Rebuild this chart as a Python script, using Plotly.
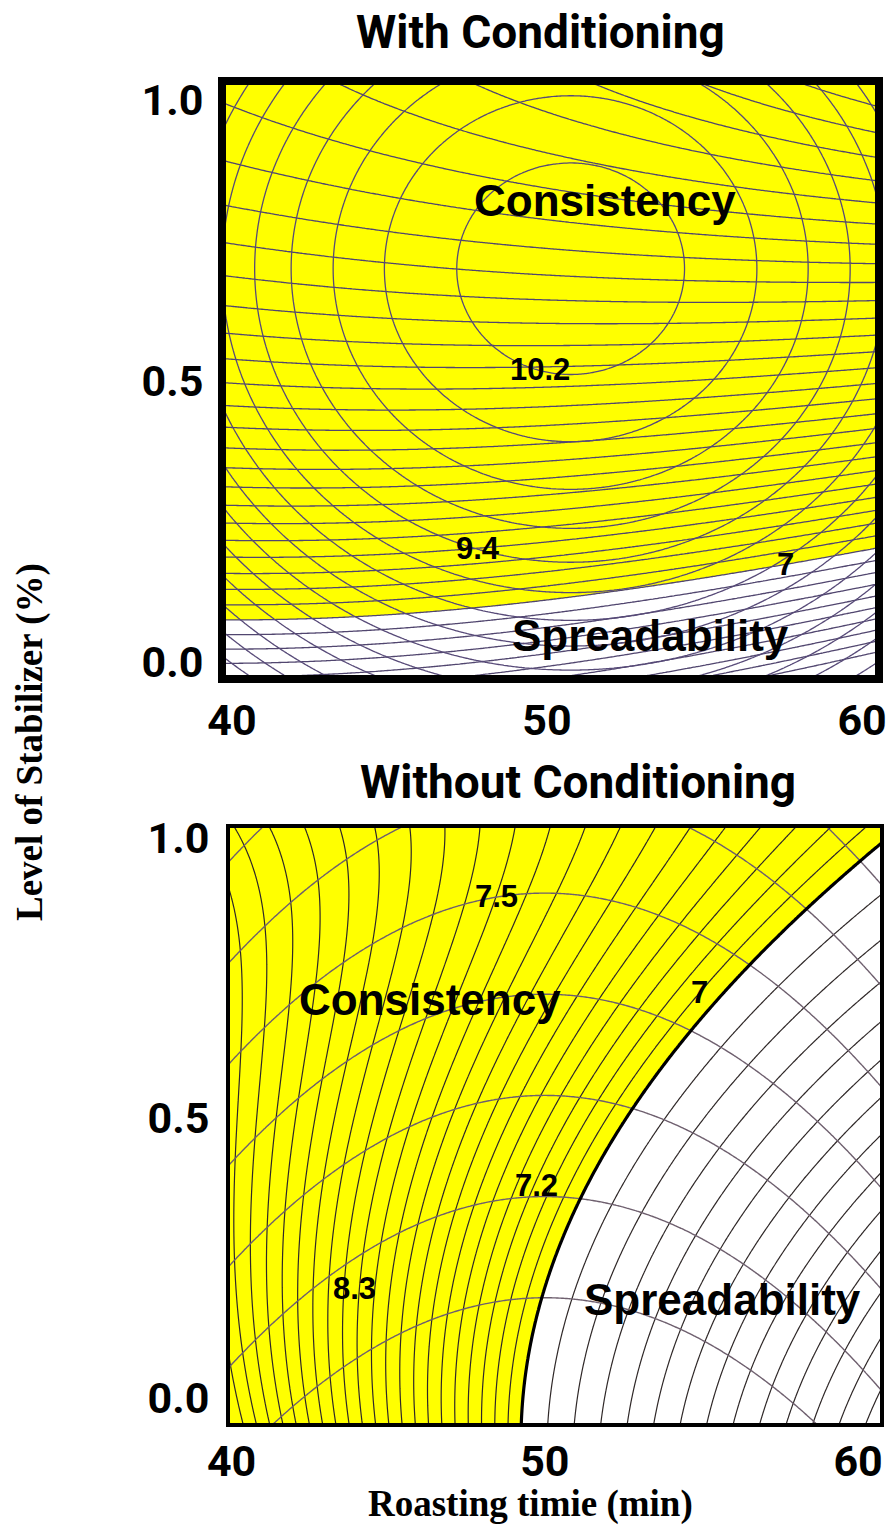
import numpy as np
import plotly.graph_objects as go

# ---- axis ticks -------------------------------------------------------------
time_ticks = [40, 50, 60]
time_tick_text = ["40", "50", "60"]
level_ticks = [0.0, 0.5, 1.0]
level_tick_text = ["0.0", "0.5", "1.0"]

# ---- fitted response surfaces ----------------------------------------------
# coded time t = roasting time - 40 (min), s = stabilizer level (%)
# each surface: (coefficient, power of t, power of s)
with_spread = [(5.545, 0, 0), (20.0, 0, 1), (-8.0, 0, 2), (-0.0075, 1, 0),
               (0.1, 1, 1), (-0.008, 2, 0), (0.0096, 2, 1)]
with_consist = [(7.612, 0, 0), (0.1965, 1, 0), (-0.00914, 2, 0),
                (4.718, 0, 1), (-3.37, 0, 2)]
without_spread = [(9.139, 0, 0), (-0.23, 1, 0), (-0.9223, 0, 1),
                  (2.0994, 0, 2), (-1.3897, 0, 3), (0.138, 1, 1)]
without_consist = [(7.0006, 0, 0), (0.83, 0, 1), (-0.0498, 1, 0), (0.00249, 2, 0)]

# acceptance limit on spreadability and contour spacing (start, end, step)
spread_limit = 7.0
with_spread_levels = (2.5, 20.0, 0.5)
with_consist_levels = (7.0, 10.2, 0.2)
without_spread_in = (7.0, 9.2, 0.1)
without_spread_out = (4.4, 6.8, 0.2)
without_consist_levels = (6.9, 7.8, 0.15)

# ---- value labels written on the plots --------------------------------------
with_labels = [("10.2", 49.78, 0.52), ("9.4", 47.81, 0.203), ("7", 57.56, 0.173)]
without_labels = [("7.5", 48.47, 0.895), ("7", 54.95, 0.725),
                  ("7.2", 49.75, 0.38), ("8.3", 43.94, 0.196)]


def surface(terms, tt, ss):
    z = np.zeros_like(tt)
    for c, i, j in terms:
        z = z + c * tt ** i * ss ** j
    return z


time = np.linspace(39.5, 61.0, 260)
level = np.linspace(-0.08, 1.06, 260)
T, S = np.meshgrid(time - 40.0, level)

W = "#ffffff"
Y = "#ffff00"
fill_scale = [[0, W], [0.5, W], [0.5, Y], [1, Y]]

fig = go.Figure()


def add_fill(z, xa, ya):
    fig.add_trace(go.Contour(
        x=time, y=level, z=z, xaxis=xa, yaxis=ya,
        autocontour=False,
        contours=dict(start=spread_limit, end=spread_limit, size=1,
                      coloring="fill", showlines=False),
        colorscale=fill_scale, showscale=False, line_width=0,
        hoverinfo="skip"))


def add_lines(z, lv, color, width, xa, ya):
    fig.add_trace(go.Contour(
        x=time, y=level, z=z, xaxis=xa, yaxis=ya,
        autocontour=False,
        contours=dict(start=lv[0], end=lv[1], size=lv[2], coloring="none"),
        line=dict(color=color, width=width), showscale=False,
        hoverinfo="skip"))


# With conditioning
zs1 = surface(with_spread, T, S)
zc1 = surface(with_consist, T, S)
add_fill(zs1, "x", "y")
add_lines(zs1, with_spread_levels, "#51466f", 1.3, "x", "y")
add_lines(zc1, with_consist_levels, "#574a78", 1.3, "x", "y")

# Without conditioning
zs2 = surface(without_spread, T, S)
zc2 = surface(without_consist, T, S)
add_fill(zs2, "x2", "y2")
add_lines(zs2, without_spread_in, "#2f2828", 1.2, "x2", "y2")
add_lines(zs2, without_spread_out, "#2f2828", 1.2, "x2", "y2")
add_lines(zc2, without_consist_levels, "#6e5f6e", 1.4, "x2", "y2")
add_lines(zs2, (spread_limit, spread_limit, 1), "#000000", 3.2, "x2", "y2")

tick_font = dict(family="Roboto", size=43, color="#000000", weight="bold")

axis_common = dict(showgrid=False, zeroline=False, showline=True, mirror=True,
                   linecolor="#000000", ticks="", ticklen=0, tickfont=tick_font,
                   automargin=False)

fig.update_layout(
    width=894, height=1531,
    margin=dict(l=0, r=0, t=0, b=0, autoexpand=False),
    paper_bgcolor="#ffffff", plot_bgcolor="#ffffff",
    showlegend=False,
    xaxis=dict(domain=[226 / 894, 875 / 894], range=[39.81, 60.41],
               tickvals=time_ticks, ticktext=time_tick_text, linewidth=8,
               anchor="y", ticklabelstandoff=0, **axis_common),
    yaxis=dict(domain=[1 - 675 / 1531, 1 - 85 / 1531], range=[-0.023, 1.027],
               tickvals=level_ticks, ticktext=level_tick_text, linewidth=8,
               anchor="x", ticklabelstandoff=6, **axis_common),
    xaxis2=dict(domain=[230 / 894, 880 / 894], range=[39.95, 60.7],
                tickvals=time_ticks, ticktext=time_tick_text, linewidth=4,
                anchor="y2", ticklabelstandoff=-3, **axis_common),
    yaxis2=dict(domain=[1 - 1423 / 1531, 1 - 828 / 1531], range=[-0.045, 1.018],
                tickvals=level_ticks, ticktext=level_tick_text, linewidth=4,
                anchor="x2", ticklabelstandoff=8, **axis_common),
)

title_font = dict(family="Roboto", size=46, color="#000000", weight="bold")
region_font = dict(family="Liberation Sans", size=44, color="#000000", weight="bold")
value_font = dict(family="Liberation Sans", size=31, color="#000000", weight="bold")
serif_font = dict(family="Liberation Serif", size=37, color="#000000", weight="bold")


def note(text, x, y, xref, yref, font, angle=0):
    return dict(text=text, x=x, y=y, xref=xref, yref=yref, showarrow=False,
                xanchor="center", yanchor="middle", textangle=angle, font=font)


ann = [
    note("With Conditioning", 540 / 894, 1 - 32 / 1531, "paper", "paper", title_font),
    note("Without Conditioning", 578 / 894, 1 - 782 / 1531, "paper", "paper", title_font),
    note("Level of Stabilizer (%)", 30 / 894, 1 - 742 / 1531, "paper", "paper",
         serif_font, angle=-90),
    note("Roasting timie (min)", 530 / 894, 1 - 1504 / 1531, "paper", "paper", serif_font),
    note("Consistency", 51.84, 0.822, "x", "y", region_font),
    note("Spreadability", 53.27, 0.048, "x", "y", region_font),
    note("Consistency", 46.34, 0.711, "x2", "y2", region_font),
    note("Spreadability", 55.66, 0.175, "x2", "y2", region_font),
]
for txt, xv, yv in with_labels:
    ann.append(note(txt, xv, yv, "x", "y", value_font))
for txt, xv, yv in without_labels:
    ann.append(note(txt, xv, yv, "x2", "y2", value_font))

fig.update_layout(annotations=ann)

fig.write_html("out.html")
